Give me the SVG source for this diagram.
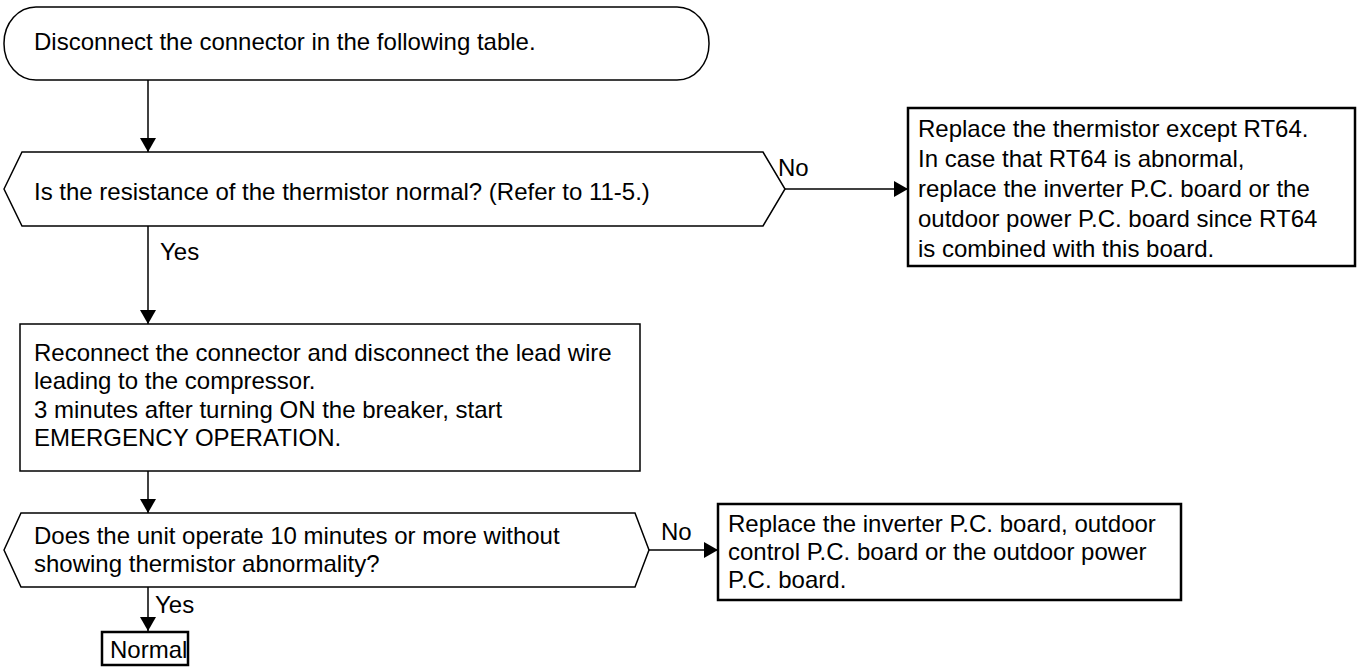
<svg xmlns="http://www.w3.org/2000/svg" width="1357" height="667" viewBox="0 0 1357 667">
<defs>
<marker id="ah" markerWidth="14" markerHeight="16" refX="14" refY="8" orient="auto" markerUnits="userSpaceOnUse">
<path d="M0,0 L14,8 L0,16 z" fill="#000"/>
</marker>
<style>
.s{fill:#fff;stroke:#000;stroke-width:1.5}
.b{fill:#fff;stroke:#000;stroke-width:2.5}
.t{font-family:"Liberation Sans",Arial,sans-serif;font-size:24px;fill:#000}
.c{stroke:#000;stroke-width:1.5;fill:none}
</style>
</defs>
<rect width="1357" height="667" fill="#fff"/>
<g id="connectors">
<line class="c" x1="148" y1="80" x2="148" y2="152" marker-end="url(#ah)"/>
<line class="c" x1="785" y1="189" x2="908" y2="189" marker-end="url(#ah)"/>
<line class="c" x1="148" y1="226" x2="148" y2="324" marker-end="url(#ah)"/>
<line class="c" x1="148" y1="471" x2="148" y2="513" marker-end="url(#ah)"/>
<line class="c" x1="649" y1="550" x2="718" y2="550" marker-end="url(#ah)"/>
<line class="c" x1="148" y1="587" x2="148" y2="631" marker-end="url(#ah)"/>
<text class="t" x="778" y="176">No</text>
<text class="t" x="160" y="260">Yes</text>
<text class="t" x="661" y="540">No</text>
<text class="t" x="155" y="613">Yes</text>
</g>
<g id="start">
<rect class="s" x="4" y="7" width="705" height="73" rx="32" ry="36"/>
<text class="t" x="34" y="50">Disconnect the connector in the following table.</text>
</g>
<g id="decision1">
<polygon class="s" points="4,189 22,152 763,152 785,189 763,226 22,226"/>
<text class="t" x="34" y="200">Is the resistance of the thermistor normal? (Refer to 11-5.)</text>
</g>
<g id="replace1">
<rect class="b" x="908" y="108" width="447" height="158"/>
<text class="t"><tspan x="918" y="137">Replace the thermistor except RT64.</tspan><tspan x="918" y="167">In case that RT64 is abnormal,</tspan><tspan x="918" y="197">replace the inverter P.C. board or the</tspan><tspan x="918" y="227">outdoor power P.C. board since RT64</tspan><tspan x="918" y="257">is combined with this board.</tspan></text>
</g>
<g id="reconnect">
<rect class="s" x="20" y="324" width="620" height="147"/>
<text class="t"><tspan x="34" y="361">Reconnect the connector and disconnect the lead wire</tspan><tspan x="34" y="389">leading to the compressor.</tspan><tspan x="34" y="418">3 minutes after turning ON the breaker, start</tspan><tspan x="34" y="446">EMERGENCY OPERATION.</tspan></text>
</g>
<g id="decision2">
<polygon class="s" points="4,550 21,513 635,513 649,550 635,587 21,587"/>
<text class="t"><tspan x="34" y="544">Does the unit operate 10 minutes or more without</tspan><tspan x="34" y="572">showing thermistor abnormality?</tspan></text>
</g>
<g id="replace2">
<rect class="b" x="718" y="504" width="463" height="96"/>
<text class="t"><tspan x="728" y="532">Replace the inverter P.C. board, outdoor</tspan><tspan x="728" y="560">control P.C. board or the outdoor power</tspan><tspan x="728" y="588">P.C. board.</tspan></text>
</g>
<g id="normal">
<rect class="b" x="102" y="632" width="86" height="33"/>
<text class="t" x="110" y="658">Normal</text>
</g>
</svg>
